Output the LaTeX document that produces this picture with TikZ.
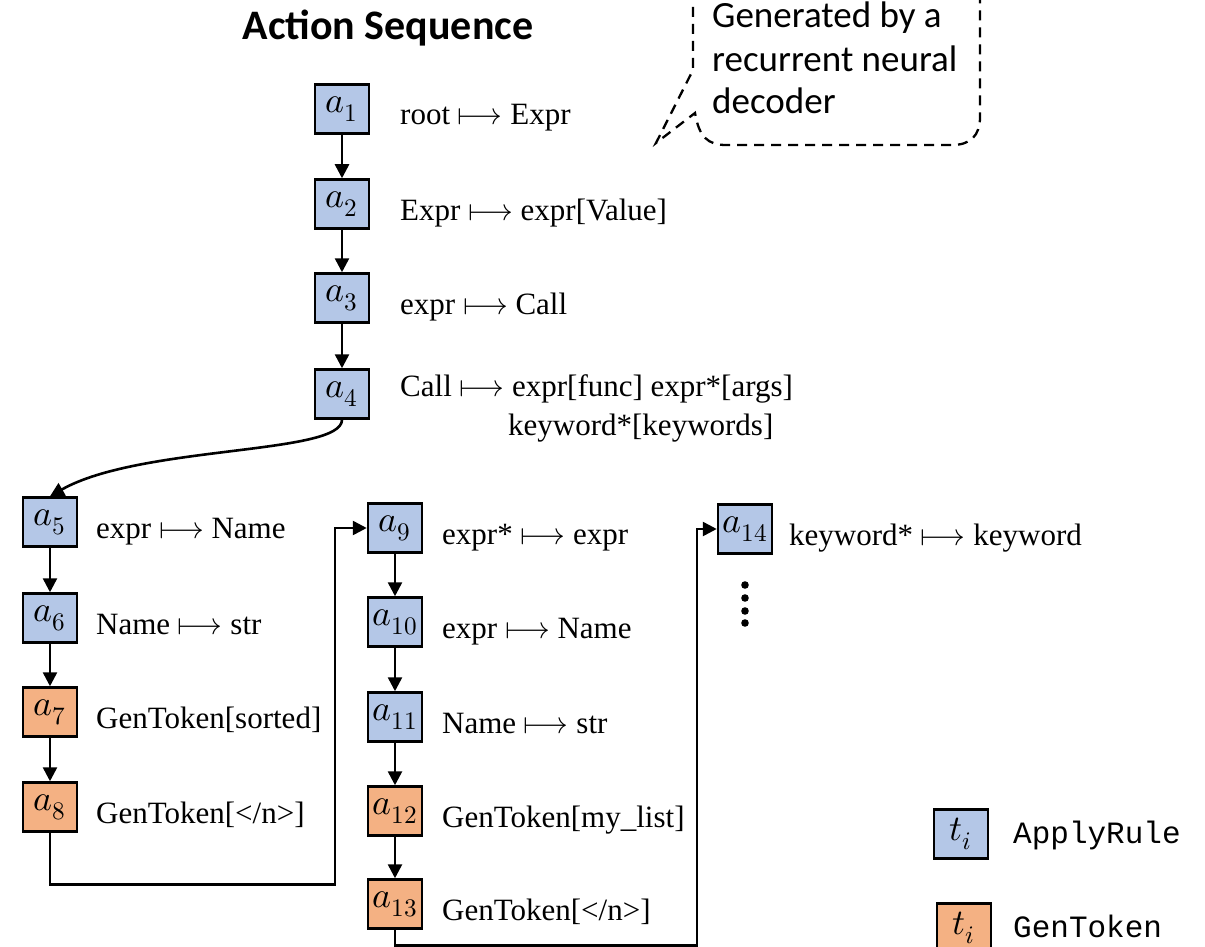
\documentclass[tikz,border=0pt]{standalone}
\usepackage{fontspec}
\usepackage{unicode-math}
\setmainfont{Liberation Serif}
\setmonofont{Liberation Mono}
\setmathfont{Latin Modern Math}
\newfontfamily\calibrifont{Carlito}
\usetikzlibrary{arrows.meta}
\definecolor{ruleblue}{HTML}{B4C7E7}
\definecolor{tokenorange}{HTML}{F4B183}

\begin{document}
\begin{tikzpicture}[x=1pt,y=-1pt,
  act/.style={draw, line width=2.5pt, minimum width=54pt, minimum height=49pt,
    inner sep=0pt, font=\fontsize{36}{40}\selectfont},
  applyrule/.style={act, fill=ruleblue},
  gentoken/.style={act, fill=tokenorange},
  rulelabel/.style={anchor=base west, inner sep=0pt, font=\fontsize{31}{37}\selectfont},
  flow/.style={line width=2.6pt, -{Triangle[length=14pt,width=14pt]}},
  legendtext/.style={anchor=base west, inner sep=0pt, font=\fontsize{31}{37}\ttfamily},
  bubble/.style={line width=2.3pt, dash pattern=on 10pt off 7pt},
]
\useasboundingbox (0,0) rectangle (1205,947);

% title
\node[inner sep=0pt, font=\calibrifont\bfseries\fontsize{42}{48}\selectfont] (title) at (388,28) {Action Sequence};

% callout
\draw[bubble] (693,-10) -- (693,70) -- (656,143) -- (695,113)
  .. controls (699,137) and (708,145) .. (726,145) -- (952,145)
  .. controls (970,145) and (980,136) .. (980,117) -- (980,-10);
\node[anchor=base west, align=left, inner sep=0pt,
  font=\calibrifont\fontsize{37}{43}\selectfont] (note) at (712,114)
  {Generated by a\\recurrent neural\\decoder};

% first column
\node[applyrule] (a1) at (342,109) {$a_{1}$};
\node[applyrule] (a2) at (342,204) {$a_{2}$};
\node[applyrule] (a3) at (342,298) {$a_{3}$};
\node[applyrule] (a4) at (342,394) {$a_{4}$};
\node[rulelabel] (l1) at (400,125) {root $\longmapsto$ Expr};
\node[rulelabel] (l2) at (400,220) {Expr $\longmapsto$ expr[Value]};
\node[rulelabel] (l3) at (400,314) {expr $\longmapsto$ Call};
\node[rulelabel] (l4) at (400,396) {Call $\longmapsto$ expr[func] expr*[args]};
\node[rulelabel] (l4b) at (508,435) {keyword*[keywords]};
\draw[flow] (a1) -- (a2);
\draw[flow] (a2) -- (a3);
\draw[flow] (a3) -- (a4);

% second column
\node[applyrule] (a5) at (50,522) {$a_{5}$};
\node[applyrule] (a6) at (50,618) {$a_{6}$};
\node[gentoken] (a7) at (50,712) {$a_{7}$};
\node[gentoken] (a8) at (50,807) {$a_{8}$};
\node[rulelabel] (l5) at (96,538) {expr $\longmapsto$ Name};
\node[rulelabel] (l6) at (96,634) {Name $\longmapsto$ str};
\node[rulelabel] (l7) at (96,728) {GenToken[sorted]};
\node[rulelabel] (l8) at (96,823) {GenToken[</n>]};
\draw[flow] (a4.south) .. controls (342,455) and (140,445) .. (a5.north);
\draw[flow] (a5) -- (a6);
\draw[flow] (a6) -- (a7);
\draw[flow] (a7) -- (a8);

% third column
\node[applyrule] (a9) at (395,528) {$a_{9}$};
\node[applyrule] (a10) at (395,622) {$a_{10}$};
\node[applyrule] (a11) at (395,717) {$a_{11}$};
\node[gentoken] (a12) at (395,811) {$a_{12}$};
\node[gentoken] (a13) at (395,904) {$a_{13}$};
\node[rulelabel] (l9) at (442,544) {expr* $\longmapsto$ expr};
\node[rulelabel] (l10) at (442,638) {expr $\longmapsto$ Name};
\node[rulelabel] (l11) at (442,733) {Name $\longmapsto$ str};
\node[rulelabel] (l12) at (442,827) {GenToken[my\_list]};
\node[rulelabel] (l13) at (442,920) {GenToken[</n>]};
\draw[flow] (a8.south) -- ++(0,52) -| (335,528) -- (a9.west);
\draw[flow] (a9) -- (a10);
\draw[flow] (a10) -- (a11);
\draw[flow] (a11) -- (a12);
\draw[flow] (a12) -- (a13);

% fourth column
\node[applyrule] (a14) at (745,529) {$a_{14}$};
\node[rulelabel] (l14) at (789,545) {keyword* $\longmapsto$ keyword};
\draw[flow] (a13.south) -- ++(0,16) -| (697,529) -- (a14.west);
\foreach \y [count=\k] in {585,598,611,623}
  \fill (745,\y) circle (3.8pt) coordinate (dot\k);

% legend
\node[applyrule] (k1) at (961,834) {$t_{i}$};
\node[gentoken] (k2) at (964,928) {$t_{i}$};
\node[legendtext] (k1t) at (1013,843) {ApplyRule};
\node[legendtext] (k2t) at (1013,937) {GenToken};
\end{tikzpicture}
\end{document}
